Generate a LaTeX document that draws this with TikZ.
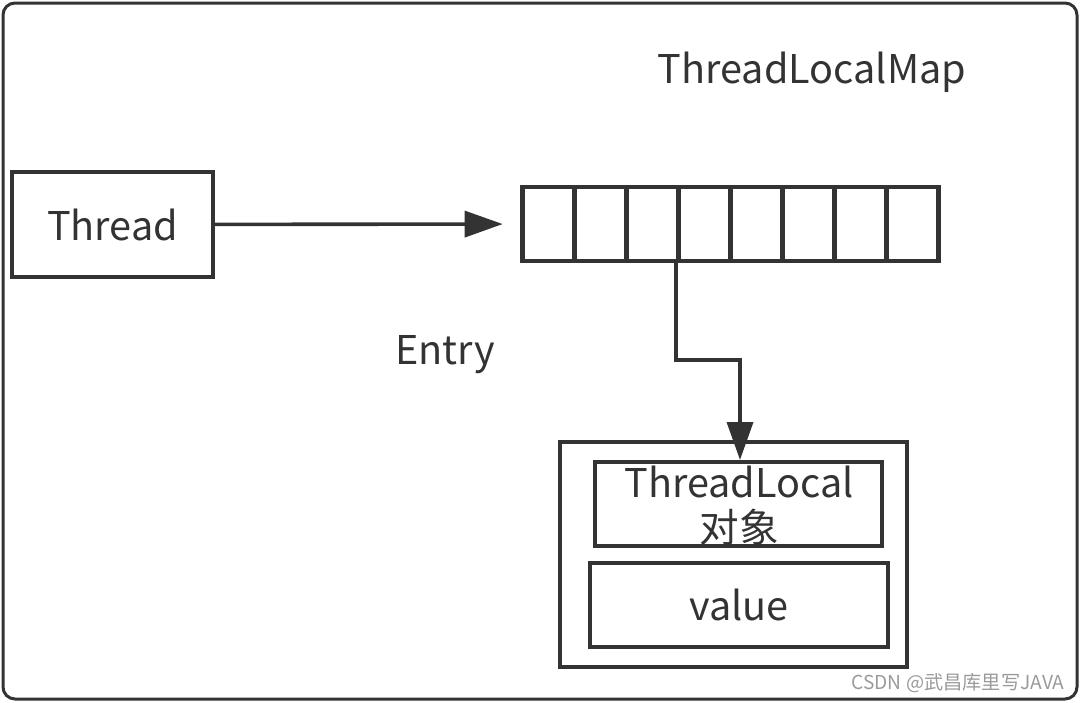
\documentclass[tikz,border=0pt]{standalone}
\usepackage{fontspec}
\setmainfont{Noto Sans CJK SC}
\usepackage{xcolor}
\definecolor{inkgray}{HTML}{333333}
\definecolor{markgray}{HTML}{9A9A9A}
\usetikzlibrary{arrows.meta,positioning}

\begin{document}
\begin{tikzpicture}[
        x=0.5pt, y=-0.5pt,
        every node/.style={text=inkgray, font=\fontsize{19.8}{21.5}\selectfont},
        box/.style={rectangle, draw=inkgray, line width=2pt, inner sep=0pt},
        cell/.style={box, line width=2.4pt, minimum width=26pt, minimum height=37pt},
        arrow/.style={-{Triangle[length=19pt, width=13pt]}, draw=inkgray, line width=1.8pt}
    ]
        \useasboundingbox (0,0) rectangle (1080,702);
        \node[box, rounded corners=6pt, line width=1.5pt, minimum width=537pt, minimum height=348pt] (frame) at (540,351) {};

        \node (maptitle) at (812,72) {ThreadLocalMap};
        \node[box, minimum width=100.5pt, minimum height=52.5pt] (thread) at (112.5,224.5) {Thread};

        % the table of the map, 8 slots
        \foreach \i in {1,...,8}
            \node[cell] (c\i) at ({548.1+52.1*(\i-1)},224) {};

        \node (entrylabel) at (445,355) {Entry};
        \node[box, minimum width=173.5pt, minimum height=112.5pt] (entry) at (733.5,554.5) {};
        \node[box, minimum width=143.5pt, minimum height=42pt] (tlobj) at (738.5,504) {};
        \node[align=center, inner sep=0pt] (tltext) at (739,506) {ThreadLocal\\[1pt]对象};
        \node[box, minimum width=149pt, minimum height=42pt] (val) at (739,605) {value};

        \node[text=markgray, font=\fontsize{9.6}{10}\selectfont] (mark) at (958,683) {CSDN @武昌库里写JAVA};

        \coordinate (turn) at (740,360);
        \draw[arrow, shorten >=8.5pt] (thread) -- (c1);
        \draw[arrow] (c4.south west) |- (turn) -- (turn |- tlobj.north);
    \end{tikzpicture}
\end{document}
